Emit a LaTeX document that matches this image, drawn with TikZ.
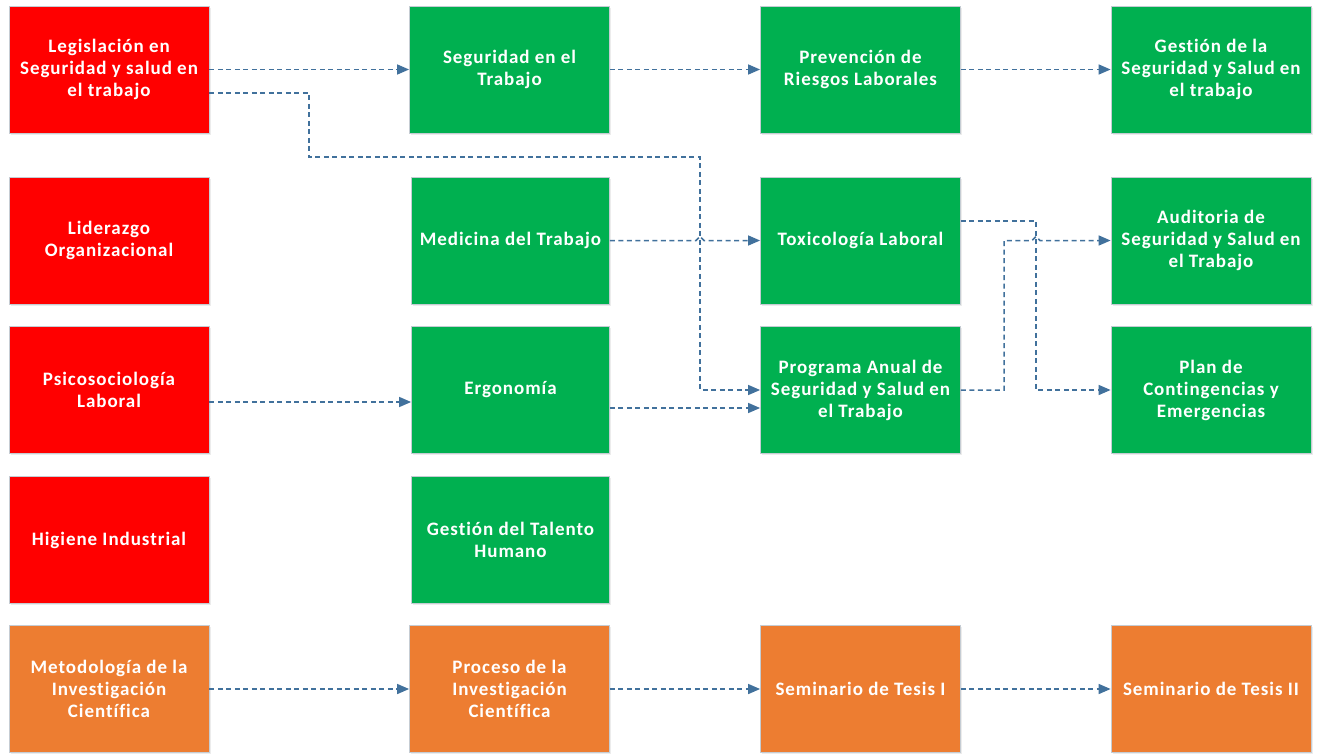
\documentclass[tikz,border=0pt]{standalone}
\usepackage{fontspec}
\setmainfont[LetterSpace=5.0,Ligatures=NoCommon]{Carlito}
\usetikzlibrary{arrows.meta,calc,shadows}
\definecolor{cred}{HTML}{FF0000}
\definecolor{cgreen}{HTML}{00B050}
\definecolor{corange}{HTML}{ED7D31}
\definecolor{cline}{HTML}{41719C}
\definecolor{cborder}{HTML}{C5CCD3}
\begin{document}
\begin{tikzpicture}[x=1pt,y=-1pt,
  box/.style={rectangle, minimum width=200pt, minimum height=127pt, draw=cborder, line width=0.8pt,
    text=white, font=\bfseries\fontsize{19}{22}\selectfont, align=center, inner sep=2pt,
    drop shadow={opacity=0.15,shadow xshift=1.5pt,shadow yshift=-1.5pt}},
  redbox/.style={box, fill=cred},
  greenbox/.style={box, fill=cgreen},
  orangebox/.style={box, fill=corange},
  conn/.style={draw=cline, line width=1.5pt, dash pattern=on 5pt off 3.5pt, -{Triangle[length=12pt,width=10pt]}},
]
\useasboundingbox[fill=white] (0,0) rectangle (1320,755);
% column 1
\node[redbox] (leg) at (109,69.5) {Legislación en\\Seguridad y salud en\\el trabajo};
\node[redbox] (lid) at (109,240.5) {Liderazgo\\Organizacional};
\node[redbox] (psi) at (109,390) {Psicosociología\\Laboral};
\node[redbox] (hig) at (109,540) {Higiene Industrial};
\node[orangebox] (met) at (109,689) {Metodología de la\\Investigación\\Científica};
% column 2
\node[greenbox] (seg) at (509.5,69.5) {Seguridad en el\\Trabajo};
\node[greenbox, minimum width=198pt] (med) at (510.5,240.5) {Medicina del Trabajo};
\node[greenbox, minimum width=198pt] (erg) at (510.5,390) {Ergonomía};
\node[greenbox, minimum width=198pt] (tal) at (510.5,540) {Gestión del Talento\\Humano};
\node[orangebox] (pro) at (509.5,689) {Proceso de la\\Investigación\\Científica};
% column 3
\node[greenbox] (prev) at (860.5,69.5) {Prevención de\\Riesgos Laborales};
\node[greenbox] (tox) at (860.5,240.5) {Toxicología Laboral};
\node[greenbox] (prog) at (860.5,390) {Programa Anual de\\Seguridad y Salud en\\el Trabajo};
\node[orangebox] (sem1) at (860.5,689) {Seminario de Tesis I};
% column 4
\node[greenbox] (ges) at (1211,69.5) {Gestión de la\\Seguridad y Salud en\\el trabajo};
\node[greenbox] (aud) at (1211,240.5) {Auditoria de\\Seguridad y Salud en\\el Trabajo};
\node[greenbox] (plan) at (1211,390) {Plan de\\Contingencias y\\Emergencias};
\node[orangebox] (sem2) at (1211,689) {Seminario de Tesis II};
% connectors row 1
\draw[conn] (leg.east) -- (seg.west);
\draw[conn] (seg.east) -- (prev.west);
\draw[conn] (prev.east) -- (ges.west);
% legislacion -> programa
\coordinate (l1) at ($(leg.east)+(0,23.5)$);
\draw[conn] (l1) -- (309,93) -- (309,157) -- (700,157) -- (700,390) -- (prog.west);
% medicina -> toxicologia with hop
\draw[conn] (med.east) -- (696,240.5) -- (700,236.5) -- (704,240.5) -- (tox.west);
% psico -> ergonomia
\coordinate (p1) at ($(psi.east)+(0,12)$);
\draw[conn] (p1) -- (p1 -| erg.west);
% ergonomia -> programa
\coordinate (e1) at ($(erg.east)+(0,18)$);
\draw[conn] (e1) -- (e1 -| prog.west);
% toxicologia -> plan
\coordinate (t1) at ($(tox.east)+(0,-19.5)$);
\draw[conn] (t1) -- (1036,221) -- (1036,390) -- (plan.west);
% programa -> auditoria with hop
\draw[conn] (prog.east) -- (1004,390) -- (1004,240.5) -- (1032,240.5) -- (1036,236.5) -- (1040,240.5) -- (aud.west);
% row 5
\draw[conn] (met.east) -- (pro.west);
\draw[conn] (pro.east) -- (sem1.west);
\draw[conn] (sem1.east) -- (sem2.west);
\end{tikzpicture}
\end{document}
